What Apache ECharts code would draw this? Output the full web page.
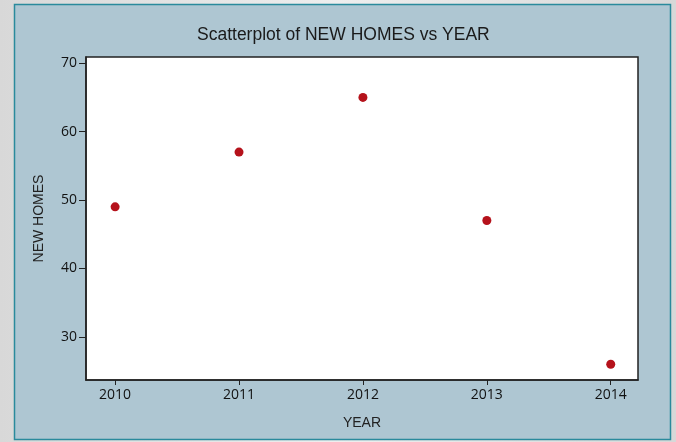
<!DOCTYPE html>
<html><head><meta charset="utf-8">
<script src="https://cdn.jsdelivr.net/npm/echarts@6/dist/echarts.min.js"></script>
<style>html,body{margin:0;padding:0;background:#e4e4e4}#c{width:676px;height:442px}</style>
</head><body><div id="c"></div>
<script>
const years = [2010, 2011, 2012, 2013, 2014];
const newHomes = [49, 57, 65, 47, 26];
const yTicks = [30, 40, 50, 60, 70];
const xTicks = [2010, 2011, 2012, 2013, 2014];

const chart = echarts.init(document.getElementById('c'));
const labelFont = {fontFamily: 'Open Sans', fontSize: 14, color: '#111'};
chart.setOption({
  backgroundColor: {type:'linear', x:0, y:0, x2:1, y2:0, colorStops:[{offset:0,color:'#d8d8d8'},{offset:0.5,color:'#eeeeee'},{offset:1,color:'#d8d8d8'}]},
  animation: false,
  graphic: [{type:'rect', z:-10, shape:{x:14.5, y:4.5, width:656, height:435}, style:{fill:'#aec6d2', stroke:'#2a8a9c', lineWidth:1.5}}],
  title: {text: 'Scatterplot of NEW HOMES vs YEAR', left: 192, top: 21,
    textStyle: {fontFamily: 'Liberation Sans', fontSize: 17.5, fontWeight: 'normal', color: '#1a1a1a'}},
  grid: {left: 86, right: 38, top: 57, bottom: 62, show: true, backgroundColor: '#ffffff', borderColor: '#222', borderWidth: 1.5},
  xAxis: {type: 'value', min: 2009.765, max: 2014.22,
    name: 'YEAR', nameLocation: 'middle', nameGap: 36,
    nameTextStyle: {fontFamily: 'Liberation Sans', fontSize: 14, color: '#222'},
    axisLine: {show: true, lineStyle: {color: '#222', width: 1.5}},
    axisTick: {show: true, length: 5, customValues: xTicks, lineStyle: {color: '#222'}},
    axisLabel: Object.assign({customValues: xTicks, margin: 8, formatter: v => String(Math.round(v))}, labelFont),
    splitLine: {show: false}},
  yAxis: {type: 'value', min: 23.7, max: 70.9,
    name: 'NEW HOMES', nameLocation: 'middle', nameGap: 40, nameRotate: 90,
    nameTextStyle: {fontFamily: 'Liberation Sans', fontSize: 14, color: '#222'},
    axisLine: {show: true, lineStyle: {color: '#222', width: 1.5}},
    axisTick: {show: true, length: 7, customValues: yTicks, lineStyle: {color: '#222'}},
    axisLabel: Object.assign({customValues: yTicks, margin: 9}, labelFont),
    splitLine: {show: false}},
  series: [{type: 'scatter', symbol: 'circle', symbolSize: 9,
    itemStyle: {color: '#b5121b', opacity: 1},
    data: years.map((y, i) => [y, newHomes[i]])}]
});
</script></body></html>
